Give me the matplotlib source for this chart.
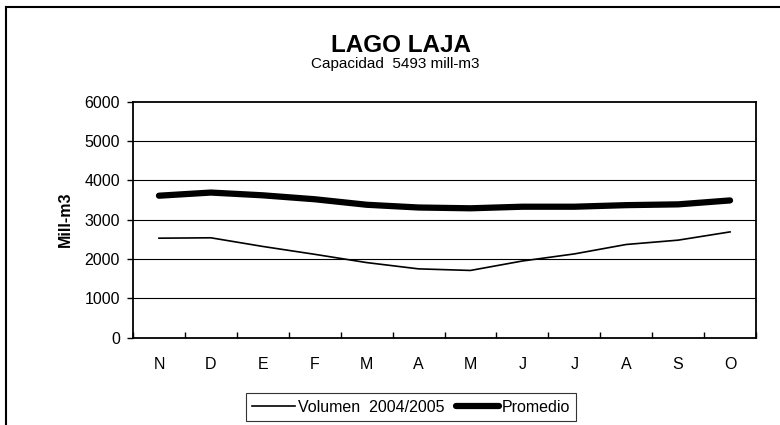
import matplotlib
matplotlib.use("Agg")
import matplotlib.pyplot as plt
from matplotlib.lines import Line2D
import numpy as np

months = ["N", "D", "E", "F", "M", "A", "M", "J", "J", "A", "S", "O"]
volumen = [2530, 2540, 2320, 2120, 1910, 1750, 1710, 1950, 2130, 2370, 2480, 2690]
promedio = [3610, 3690, 3620, 3520, 3380, 3310, 3290, 3330, 3330, 3370, 3390, 3490]
yticks = [0, 1000, 2000, 3000, 4000, 5000, 6000]

plt.rcParams["font.family"] = ["Liberation Sans", "DejaVu Sans"]

fig = plt.figure(figsize=(7.8, 4.25), dpi=100)
ax = fig.add_axes([133 / 780, 87.3 / 425, 623 / 780, 236 / 425])

x = np.arange(len(months))
ax.plot(x, volumen, color="black", lw=1.2, label="Volumen  2004/2005")
ax.plot(x, promedio, color="black", lw=4.5, solid_capstyle="round",
        label="Promedio")

ax.set_xlim(-0.5, len(months) - 0.5)
ax.set_ylim(0, 6000)
ax.set_yticks(yticks)
ax.set_yticklabels([str(v) for v in yticks], fontsize=11.5)
ax.set_xticks(x)
ax.set_xticklabels(months, fontsize=11.5)
ax.tick_params(axis="x", which="major", length=0, pad=14)
ax.set_xticks(np.arange(-0.5, len(months)), minor=True)
ax.tick_params(axis="x", which="minor", direction="in", length=4, width=1)
ax.tick_params(axis="y", direction="out", length=4.3, width=1, pad=5)

for y in yticks[1:-1]:
    ax.axhline(y, color="black", lw=0.8, zorder=0)

for s in ax.spines.values():
    s.set_linewidth(1.3)
    s.set_color("black")

ax.set_ylabel("Mill-m3", fontsize=11.5, fontweight="bold", labelpad=8)

fig.text(401 / 780, 1 - 45 / 425, "LAGO LAJA", ha="center", va="center",
         fontsize=17.5, fontweight="bold")
fig.text(395 / 780, 1 - 64 / 425, "Capacidad  5493 mill-m3", ha="center",
         va="center", fontsize=11)

leg = ax.legend(loc="center", bbox_to_anchor=(411 / 780, 18 / 425),
                bbox_transform=fig.transFigure, ncol=2, fontsize=11.5,
                frameon=True, fancybox=False, handlelength=2.7,
                handletextpad=0.15, columnspacing=0.75, borderpad=0.4,
                borderaxespad=0)
leg.get_frame().set_edgecolor("black")
leg.get_frame().set_linewidth(0.8)

# outer chart border (top and left visible)
fig.add_artist(Line2D([6 / 780, 1], [1 - 7 / 425, 1 - 7 / 425],
                      transform=fig.transFigure, color="black", lw=1.5))
fig.add_artist(Line2D([6 / 780, 6 / 780], [0, 1 - 7 / 425],
                      transform=fig.transFigure, color="black", lw=1.5))

fig.savefig("out.png", dpi=100)
